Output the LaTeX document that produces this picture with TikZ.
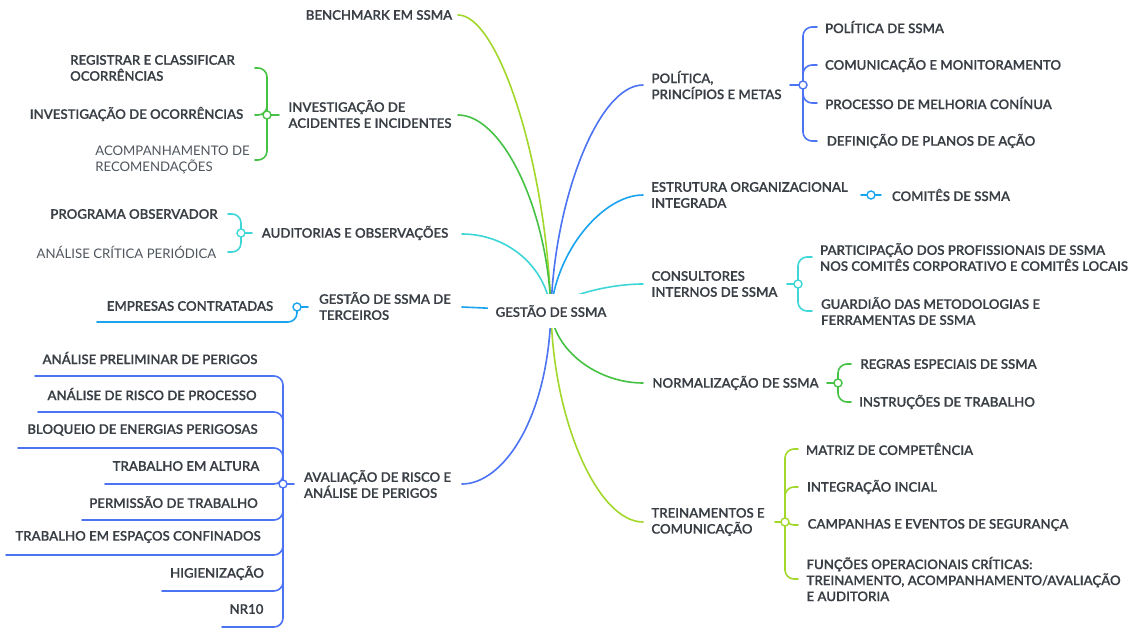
\documentclass[tikz,border=0pt]{standalone}
\usepackage{fontspec}
\setmainfont{Lato Semibold}[FakeBold=0.4]
\newfontfamily\lightfont{Lato}
\usetikzlibrary{calc}
\pgfdeclarelayer{bg}
\pgfsetlayers{bg,main}
\definecolor{cygreen}{HTML}{A2D82A}
\definecolor{cgreen}{HTML}{45C243}
\definecolor{ccyan}{HTML}{3ED6D6}
\definecolor{csky}{HTML}{1AA4F0}
\definecolor{cblue}{HTML}{4B73F4}
\definecolor{ctext}{HTML}{3A3F46}
\definecolor{clight}{HTML}{50565E}
\tikzset{
  txt/.style={inner sep=0pt, text=ctext, font=\fontsize{13.2}{16}\selectfont, align=left},
  ltxt/.style={inner sep=0pt, text=clight, font=\fontsize{13.2}{16}\selectfont\lightfont, align=left},
  link/.style={line width=1.6pt, line cap=round},
  knot/.style={circle, draw, fill=white, line width=1.4pt, inner sep=0pt, minimum size=8pt},
  br/.style={link, rounded corners=9pt},
}
\begin{document}
\begin{tikzpicture}[x=1pt,y=1pt]
\useasboundingbox (0,0) rectangle (1134,-628);
\begin{pgfonlayer}{bg}
\fill[white] (0,0) rectangle (1134,-628);
\end{pgfonlayer}
% centre
\node[txt, fill=white, minimum height=34pt, minimum width=126pt, align=center] (cen) at (551,-311) {GESTÃO DE SSMA};
% ---------- left topics
\node[txt] (bench) at (379,-15) {BENCHMARK EM SSMA};
\node[txt] (inv) at (370,-114) {INVESTIGAÇÃO DE\\ACIDENTES E INCIDENTES};
\node[txt] (aud) at (355,-233) {AUDITORIAS E OBSERVAÇÕES};
\node[txt] (ter) at (385,-306) {GESTÃO DE SSMA DE\\TERCEIROS};
\node[txt] (ava) at (377.5,-484) {AVALIAÇÃO DE RISCO E\\ANÁLISE DE PERIGOS};
% ---------- right topics
\node[txt] (pol) at (716.5,-85) {POLÍTICA,\\PRINCÍPIOS E METAS};
\node[txt] (est) at (749.5,-195) {ESTRUTURA ORGANIZACIONAL\\INTEGRADA};
\node[txt] (con) at (714.5,-284) {CONSULTORES\\INTERNOS DE SSMA};
\node[txt] (nor) at (735.5,-383) {NORMALIZAÇÃO DE SSMA};
\node[txt] (tre) at (708,-522) {TREINAMENTOS E\\COMUNICAÇÃO};
% ---------- subtopics left
\node[txt] (reg) at (152.5,-68) {REGISTRAR E CLASSIFICAR\\OCORRÊNCIAS};
\node[txt] (invo) at (136.5,-114) {INVESTIGAÇÃO DE OCORRÊNCIAS};
\node[ltxt] (aco) at (172.5,-160) {ACOMPANHAMENTO DE\\RECOMENDAÇÕES};
\node[txt] (prog) at (134,-214) {PROGRAMA OBSERVADOR};
\node[ltxt] (anc) at (126.5,-252) {ANÁLISE CRÍTICA PERIÓDICA};
\node[txt] (emp) at (190,-306) {EMPRESAS CONTRATADAS};
\node[txt] (a1) at (150,-358) {ANÁLISE PRELIMINAR DE PERIGOS};
\node[txt] (a2) at (152,-394) {ANÁLISE DE RISCO DE PROCESSO};
\node[txt] (a3) at (142.5,-430) {BLOQUEIO DE ENERGIAS PERIGOSAS};
\node[txt] (a4) at (186,-466) {TRABALHO EM ALTURA};
\node[txt] (a5) at (173.5,-502) {PERMISSÃO DE TRABALHO};
\node[txt] (a6) at (138,-537) {TRABALHO EM ESPAÇOS CONFINADOS};
\node[txt] (a7) at (217,-573) {HIGIENIZAÇÃO};
\node[txt] (a8) at (246.5,-609) {NR10};
% ---------- subtopics right
\node[txt] (p1) at (884.5,-27) {POLÍTICA DE SSMA};
\node[txt] (p2) at (943,-65) {COMUNICAÇÃO E MONITORAMENTO};
\node[txt] (p3) at (938.5,-103) {PROCESSO DE MELHORIA CONÍNUA};
\node[txt] (p4) at (931,-141) {DEFINIÇÃO DE PLANOS DE AÇÃO};
\node[txt] (com) at (951,-195) {COMITÊS DE SSMA};
\node[txt] (c1) at (974,-257) {PARTICIPAÇÃO DOS PROFISSIONAIS DE SSMA\\NOS COMITÊS CORPORATIVO E COMITÊS LOCAIS};
\node[txt] (c2) at (930.5,-311) {GUARDIÃO DAS METODOLOGIAS E\\FERRAMENTAS DE SSMA};
\node[txt] (n1) at (948.5,-364) {REGRAS ESPECIAIS DE SSMA};
\node[txt] (n2) at (947,-402) {INSTRUÇÕES DE TRABALHO};
\node[txt] (t1) at (889.5,-449) {MATRIZ DE COMPETÊNCIA};
\node[txt] (t2) at (872,-487) {INTEGRAÇÃO INCIAL};
\node[txt] (t3) at (938,-525) {CAMPANHAS E EVENTOS DE SEGURANÇA};
\node[txt] (t4) at (963.5,-579) {FUNÇÕES OPERACIONAIS CRÍTICAS:\\TREINAMENTO, ACOMPANHAMENTO/AVALIAÇÃO\\E AUDITORIA};
% ---------- knots
\node[knot, draw=cgreen] (k-inv) at (267,-115) {};
\node[knot, draw=ccyan] (k-aud) at (241,-233) {};
\node[knot, draw=csky] (k-ter) at (297,-307) {};
\node[knot, draw=cblue] (k-ava) at (283,-484) {};
\node[knot, draw=cblue] (k-pol) at (803,-85) {};
\node[knot, draw=csky] (k-est) at (871,-195) {};
\node[knot, draw=ccyan] (k-con) at (798,-284) {};
\node[knot, draw=cgreen] (k-nor) at (838,-383) {};
\node[knot, draw=cygreen] (k-tre) at (785,-522) {};
% ---------- connector end points
\coordinate (e-bench) at (458,-15);
\coordinate (e-inv) at (458,-115);
\coordinate (e-aud) at (462,-234);
\coordinate (e-ter) at (462,-307);
\coordinate (e-ava) at (462,-484);
\coordinate (e-pol) at (643,-85);
\coordinate (e-est) at (643,-195);
\coordinate (e-con) at (643,-284);
\coordinate (e-nor) at (643,-383);
\coordinate (e-tre) at (643,-522);
\coordinate (s-inv) at (279,-115);
\coordinate (s-aud) at (252,-233);
\coordinate (s-ter) at (308,-307);
\coordinate (s-ava) at (294,-484);
\coordinate (s-pol) at (790,-85);
\coordinate (s-est1) at (861,-195);
\coordinate (s-est2) at (881,-195);
\coordinate (s-con) at (787,-284);
\coordinate (s-nor) at (827,-383);
\coordinate (s-tre) at (775,-522);
\coordinate (x-reg) at (255,-68);
\coordinate (x-invo) at (255,-115);
\coordinate (x-aco) at (255,-160);
\coordinate (x-prog) at (228,-214);
\coordinate (x-anc) at (228,-252);
\coordinate (x-emp) at (97,-322);
\coordinate (x-a1) at (35,-376);
\coordinate (x-a2) at (38,-412);
\coordinate (x-a3) at (18,-448);
\coordinate (x-a4) at (105,-484);
\coordinate (x-a5) at (82,-520);
\coordinate (x-a6) at (6,-555);
\coordinate (x-a7) at (162,-591);
\coordinate (x-a8) at (222,-627);
\coordinate (x-p1) at (817,-27);
\coordinate (x-p2) at (817,-65);
\coordinate (x-p3) at (817,-103);
\coordinate (x-p4) at (817,-141);
\coordinate (x-c1) at (812,-257);
\coordinate (x-c2) at (812,-311);
\coordinate (x-n1) at (851,-364);
\coordinate (x-n2) at (851,-402);
\coordinate (x-t1) at (798,-449);
\coordinate (x-t2) at (798,-487);
\coordinate (x-t3) at (798,-525);
\coordinate (x-t4) at (798,-579);
\begin{pgfonlayer}{bg}
% main branches
\draw[link, cygreen] (cen.center) .. controls ($(cen.center)+(-5,150)$) and ($(e-bench)+(40,0)$) .. (e-bench);
\draw[link, cgreen] (cen.center) .. controls ($(cen.center)+(-3,100)$) and ($(e-inv)+(45,0)$) .. (e-inv);
\draw[link, ccyan] (cen.center) .. controls ($(cen.center)+(-5,45)$) and ($(e-aud)+(45,0)$) .. (e-aud);
\draw[link, csky] (cen.center) -- (e-ter);
\draw[link, cblue] (cen.center) .. controls ($(cen.center)+(-3,-110)$) and ($(e-ava)+(40,0)$) .. (e-ava);
\draw[link, cblue] (cen.center) .. controls ($(cen.center)+(3,110)$) and ($(e-pol)+(-45,0)$) .. (e-pol);
\draw[link, csky] (cen.center) .. controls ($(cen.center)+(5,60)$) and ($(e-est)+(-40,0)$) .. (e-est);
\draw[link, ccyan] (cen.center) .. controls ($(cen.center)+(10,15)$) and ($(e-con)+(-35,0)$) .. (e-con);
\draw[link, cgreen] (cen.center) .. controls ($(cen.center)+(3,-40)$) and ($(e-nor)+(-45,0)$) .. (e-nor);
\draw[link, cygreen] (cen.center) .. controls ($(cen.center)+(2,-110)$) and ($(e-tre)+(-45,0)$) .. (e-tre);
% short links topic - knot
\draw[link, cgreen] (k-inv.center) -- (s-inv);
\draw[link, ccyan] (k-aud.center) -- (s-aud);
\draw[link, csky] (k-ter.center) -- (s-ter);
\draw[link, cblue] (k-ava.center) -- (s-ava);
\draw[link, cblue] (s-pol) -- (k-pol.center);
\draw[link, csky] (s-est1) -- (s-est2);
\draw[link, ccyan] (s-con) -- (k-con.center);
\draw[link, cgreen] (s-nor) -- (k-nor.center);
\draw[link, cygreen] (s-tre) -- (k-tre.center);
% braces
\foreach \c in {reg,invo,aco} \draw[br, cgreen] (k-inv.center) |- (x-\c);
\foreach \c in {prog,anc} \draw[br, ccyan] (k-aud.center) |- (x-\c);
\draw[br, csky] (k-ter.center) |- (x-emp);
\foreach \c in {a1,a2,a3,a4,a5,a6,a7,a8} \draw[br, cblue] (k-ava.center) |- (x-\c);
\foreach \c in {p1,p2,p3,p4} \draw[br, cblue] (k-pol.center) |- (x-\c);
\foreach \c in {c1,c2} \draw[br, ccyan] (k-con.center) |- (x-\c);
\foreach \c in {n1,n2} \draw[br, cgreen] (k-nor.center) |- (x-\c);
\foreach \c in {t1,t2,t3,t4} \draw[br, cygreen] (k-tre.center) |- (x-\c);
\end{pgfonlayer}
\end{tikzpicture}
\end{document}
